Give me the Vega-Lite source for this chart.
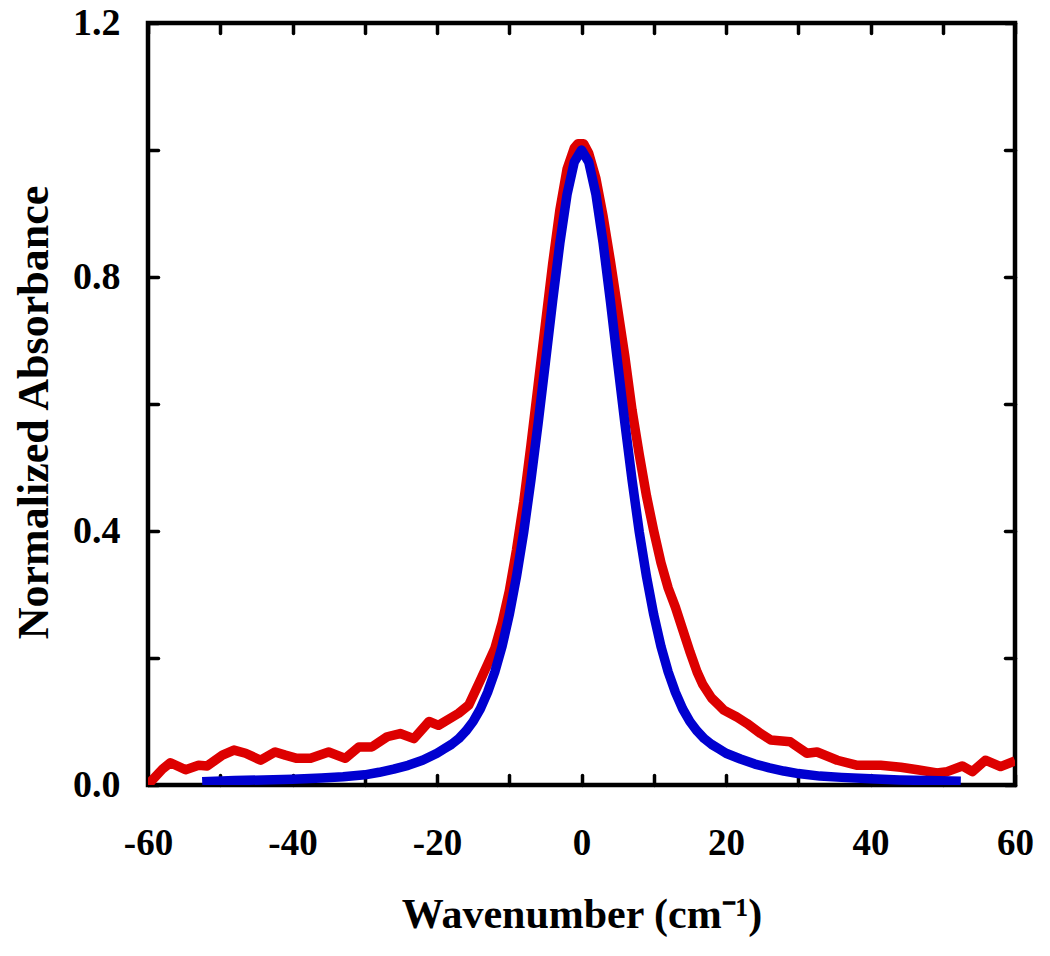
{
  "$schema": "https://vega.github.io/schema/vega-lite/v6.json",
  "width": 867,
  "height": 762,
  "autosize": {"type": "none"},
  "padding": {"left": 148, "top": 23, "right": 35, "bottom": 171},
  "background": "white",
  "config": {
    "view": {"stroke": "black", "strokeWidth": 4.5},
    "font": "Liberation Serif"
  },
  "datasets": {
    "exp": [
      {"x": -60, "y": 0.0}, {"x": -59.4, "y": 0.008}, {"x": -58, "y": 0.025}, {"x": -56.9, "y": 0.035},
      {"x": -54.8, "y": 0.024}, {"x": -53.0, "y": 0.031}, {"x": -51.8, "y": 0.030}, {"x": -49.7, "y": 0.047},
      {"x": -48.1, "y": 0.055}, {"x": -46.5, "y": 0.050}, {"x": -44.4, "y": 0.039}, {"x": -42.4, "y": 0.052},
      {"x": -41.0, "y": 0.047}, {"x": -39.4, "y": 0.042}, {"x": -37.5, "y": 0.042}, {"x": -35.0, "y": 0.052},
      {"x": -32.7, "y": 0.042}, {"x": -30.8, "y": 0.060}, {"x": -29.0, "y": 0.060}, {"x": -26.9, "y": 0.076},
      {"x": -25.1, "y": 0.081}, {"x": -23.2, "y": 0.073}, {"x": -21.1, "y": 0.100}, {"x": -19.8, "y": 0.094},
      {"x": -17.0, "y": 0.113}, {"x": -15.6, "y": 0.126}, {"x": -14, "y": 0.165}, {"x": -13, "y": 0.19},
      {"x": -12, "y": 0.215}, {"x": -11, "y": 0.255}, {"x": -10, "y": 0.305}, {"x": -9, "y": 0.37},
      {"x": -8, "y": 0.445}, {"x": -7, "y": 0.535}, {"x": -6, "y": 0.63}, {"x": -5, "y": 0.725},
      {"x": -4, "y": 0.82}, {"x": -3, "y": 0.905}, {"x": -2, "y": 0.97}, {"x": -1, "y": 1.003},
      {"x": -0.5, "y": 1.01}, {"x": 0.3, "y": 1.01}, {"x": 1, "y": 0.995}, {"x": 2, "y": 0.955},
      {"x": 3, "y": 0.895}, {"x": 4, "y": 0.825}, {"x": 5, "y": 0.75}, {"x": 6, "y": 0.675},
      {"x": 7, "y": 0.59}, {"x": 8, "y": 0.52}, {"x": 9, "y": 0.455}, {"x": 10, "y": 0.40},
      {"x": 11, "y": 0.35}, {"x": 12, "y": 0.31}, {"x": 13, "y": 0.28}, {"x": 14, "y": 0.245},
      {"x": 15, "y": 0.21}, {"x": 16, "y": 0.178}, {"x": 16.8, "y": 0.158}, {"x": 18, "y": 0.137},
      {"x": 19, "y": 0.126}, {"x": 19.7, "y": 0.118}, {"x": 21.5, "y": 0.107}, {"x": 22.9, "y": 0.097},
      {"x": 24.8, "y": 0.081}, {"x": 26.2, "y": 0.071}, {"x": 28.9, "y": 0.068}, {"x": 29.9, "y": 0.06},
      {"x": 31.2, "y": 0.050}, {"x": 32.6, "y": 0.052}, {"x": 35.4, "y": 0.039}, {"x": 38.2, "y": 0.031},
      {"x": 41.4, "y": 0.031}, {"x": 44.2, "y": 0.028}, {"x": 46.5, "y": 0.024}, {"x": 49.2, "y": 0.019},
      {"x": 50.6, "y": 0.021}, {"x": 52.7, "y": 0.030}, {"x": 54.1, "y": 0.021}, {"x": 55.9, "y": 0.039},
      {"x": 58.0, "y": 0.029}, {"x": 60, "y": 0.038}
    ],
    "fit": [
      {"x": -52.5, "y": 0.005}, {"x": -48, "y": 0.007}, {"x": -44, "y": 0.008}, {"x": -40, "y": 0.009},
      {"x": -36, "y": 0.011}, {"x": -33, "y": 0.013}, {"x": -30, "y": 0.016}, {"x": -28, "y": 0.020},
      {"x": -26, "y": 0.025}, {"x": -24, "y": 0.031}, {"x": -22, "y": 0.039}, {"x": -20, "y": 0.050},
      {"x": -19, "y": 0.057}, {"x": -18, "y": 0.064}, {"x": -17, "y": 0.073}, {"x": -16, "y": 0.085},
      {"x": -15, "y": 0.100}, {"x": -14, "y": 0.120}, {"x": -13, "y": 0.146}, {"x": -12, "y": 0.178},
      {"x": -11, "y": 0.218}, {"x": -10, "y": 0.268}, {"x": -9, "y": 0.328}, {"x": -8, "y": 0.398},
      {"x": -7, "y": 0.480}, {"x": -6, "y": 0.570}, {"x": -5, "y": 0.665}, {"x": -4, "y": 0.762},
      {"x": -3, "y": 0.853}, {"x": -2, "y": 0.930}, {"x": -1, "y": 0.981}, {"x": 0, "y": 1.0},
      {"x": 1, "y": 0.981}, {"x": 2, "y": 0.930}, {"x": 3, "y": 0.853}, {"x": 4, "y": 0.762},
      {"x": 5, "y": 0.665}, {"x": 6, "y": 0.570}, {"x": 7, "y": 0.480}, {"x": 8, "y": 0.398},
      {"x": 9, "y": 0.328}, {"x": 10, "y": 0.268}, {"x": 11, "y": 0.218}, {"x": 12, "y": 0.178},
      {"x": 13, "y": 0.146}, {"x": 14, "y": 0.120}, {"x": 15, "y": 0.100}, {"x": 16, "y": 0.085},
      {"x": 17, "y": 0.073}, {"x": 18, "y": 0.064}, {"x": 19, "y": 0.057}, {"x": 20, "y": 0.050},
      {"x": 22, "y": 0.041}, {"x": 24, "y": 0.033}, {"x": 26, "y": 0.027}, {"x": 28, "y": 0.022},
      {"x": 30, "y": 0.018}, {"x": 33, "y": 0.014}, {"x": 36, "y": 0.012}, {"x": 40, "y": 0.010},
      {"x": 44, "y": 0.008}, {"x": 48, "y": 0.007}, {"x": 52.5, "y": 0.006}
    ]
  },
  "layer": [
    {
      "data": {"name": "exp"},
      "mark": {"type": "line", "color": "#dd0000", "strokeWidth": 9.5, "clip": true, "strokeJoin": "round"},
      "encoding": {
        "x": {
          "field": "x", "type": "quantitative",
          "scale": {"domain": [-60, 60], "nice": false, "zero": false},
          "axis": {
            "orient": "bottom",
            "values": [-60, -50, -40, -30, -20, -10, 0, 10, 20, 30, 40, 50, 60],
            "labelExpr": "datum.value % 20 === 0 ? '' + datum.value : ''",
            "domain": false, "grid": false,
            "tickSize": -10, "tickWidth": 3.5, "tickColor": "black", "tickCap": "round",
            "labelFont": "Liberation Serif", "labelFontWeight": "bold", "labelFontSize": 37,
            "labelColor": "black", "labelPadding": 50, "labelFlush": false, "labelOverlap": false,
            "title": "Wavenumber (cm⁻¹)",
            "titleFont": "Liberation Serif", "titleFontWeight": "bold", "titleFontSize": 42,
            "titleColor": "black", "titleY": 142, "titleBaseline": "alphabetic"
          }
        },
        "y": {
          "field": "y", "type": "quantitative",
          "scale": {"domain": [0, 1.2], "nice": false},
          "axis": {
            "orient": "left",
            "values": [0, 0.2, 0.4, 0.6, 0.8, 1.0, 1.2],
            "labelExpr": "round(datum.value * 10) % 4 === 0 ? format(datum.value, '.1f') : ''",
            "domain": false, "grid": false,
            "tickSize": -10, "tickWidth": 3.5, "tickColor": "black", "tickCap": "round",
            "labelFont": "Liberation Serif", "labelFontWeight": "bold", "labelFontSize": 38,
            "labelColor": "black", "labelPadding": 38, "labelFlush": false, "labelOverlap": false,
            "title": "Normalized Absorbance",
            "titleFont": "Liberation Serif", "titleFontWeight": "bold", "titleFontSize": 44,
            "titleColor": "black", "titleAngle": -90, "titleX": -101, "titleY": 389,
            "titleAlign": "center", "titleBaseline": "alphabetic"
          }
        }
      }
    },
    {
      "data": {"name": "fit"},
      "mark": {"type": "line", "color": "#0000d0", "strokeWidth": 9.5, "clip": true, "strokeJoin": "round"},
      "encoding": {
        "x": {
          "field": "x", "type": "quantitative",
          "scale": {"domain": [-60, 60], "nice": false, "zero": false},
          "axis": {
            "orient": "top",
            "values": [-60, -50, -40, -30, -20, -10, 0, 10, 20, 30, 40, 50, 60],
            "labels": false, "domain": false, "grid": false, "title": null,
            "tickSize": -10, "tickWidth": 3.5, "tickColor": "black", "tickCap": "round"
          }
        },
        "y": {
          "field": "y", "type": "quantitative",
          "scale": {"domain": [0, 1.2], "nice": false},
          "axis": {
            "orient": "right",
            "values": [0, 0.2, 0.4, 0.6, 0.8, 1.0, 1.2],
            "labels": false, "domain": false, "grid": false, "title": null,
            "tickSize": -10, "tickWidth": 3.5, "tickColor": "black", "tickCap": "round"
          }
        }
      }
    }
  ],
  "resolve": {"axis": {"x": "independent", "y": "independent"}}
}
